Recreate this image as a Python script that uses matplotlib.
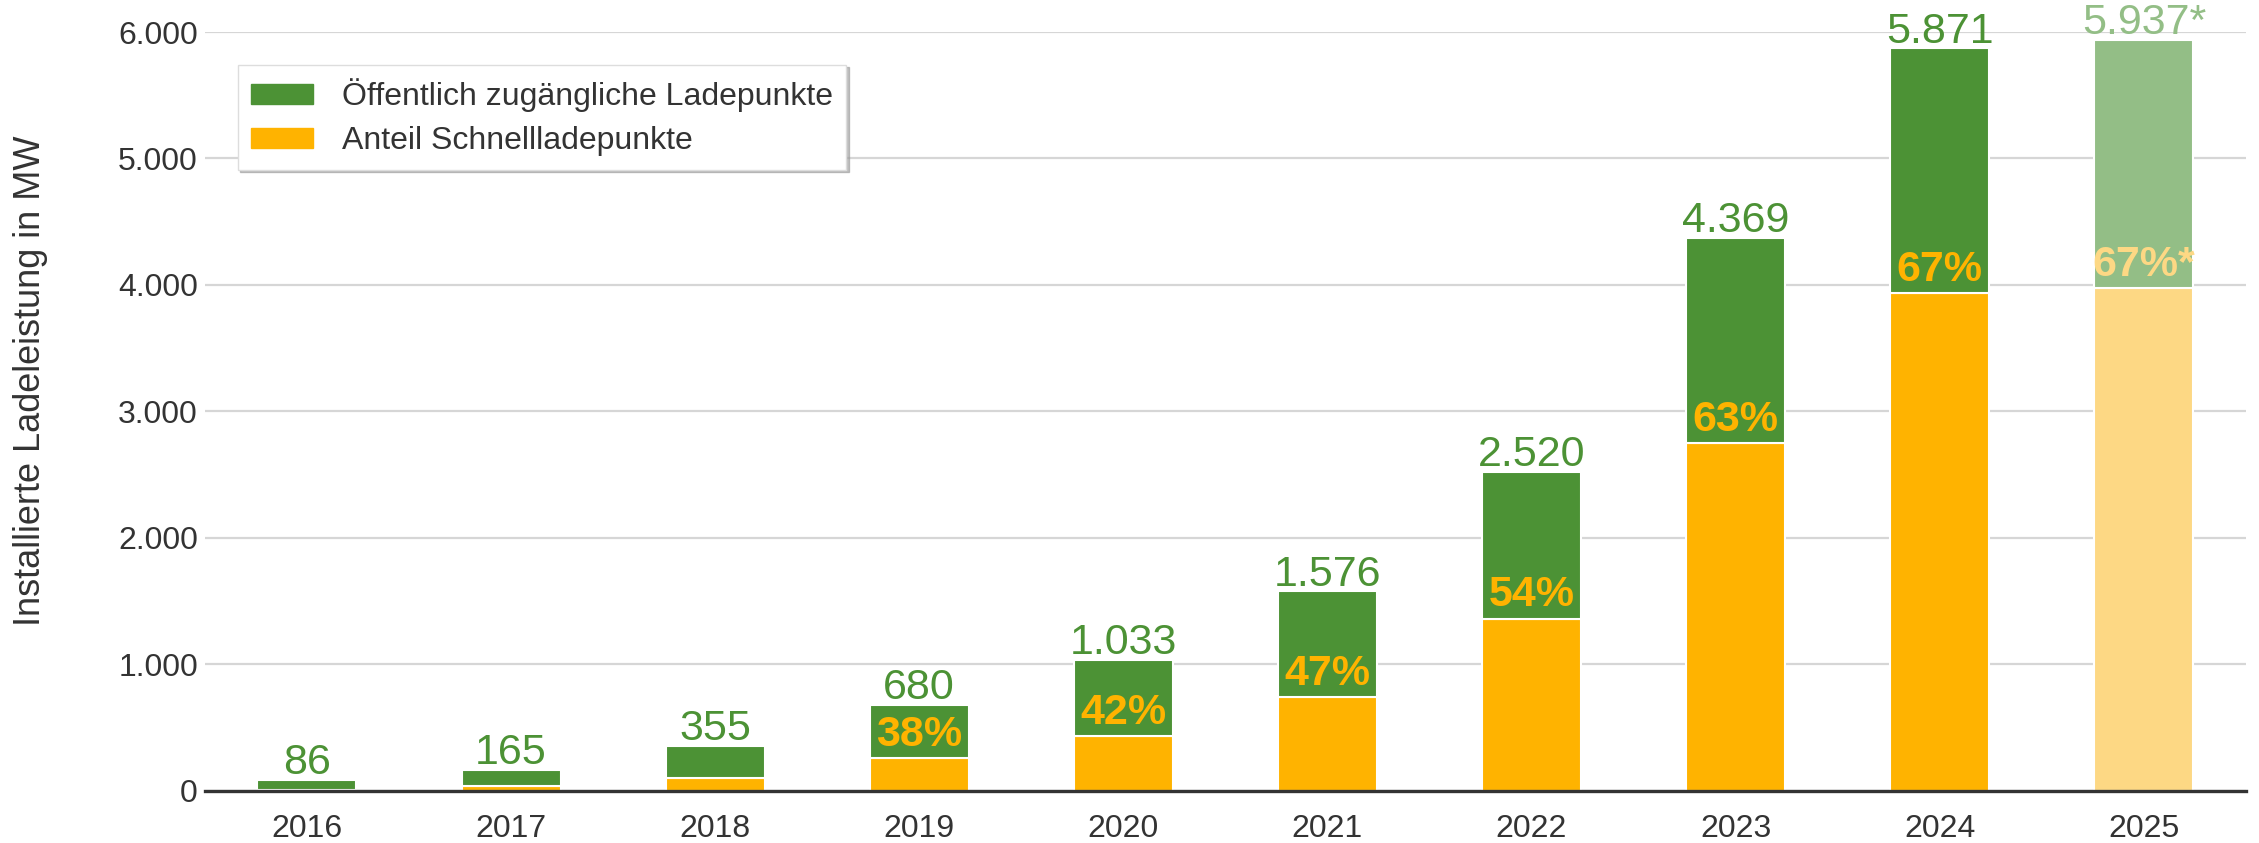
import numpy as np
import matplotlib.pyplot as plt
from matplotlib.patches import Patch

# ── Data ─────────────────────────────────────────────────────────────────────
years        = ['2016', '2017', '2018', '2019', '2020', '2021', '2022', '2023', '2024', '2025']
total_mw     = [86, 165, 355, 680, 1033, 1576, 2520, 4369, 5871, 5937]
fast_mw      = [5, 35, 100, 258, 434, 741, 1361, 2752, 3934, 3978]
fast_pct     = [None, None, None, 38, 42, 47, 54, 63, 67, 67]
total_labels = ['86', '165', '355', '680', '1.033', '1.576', '2.520', '4.369', '5.871', '5.937*']
pct_labels   = ['', '', '', '38%', '42%', '47%', '54%', '63%', '67%', '67%*']
yticks       = [0, 1000, 2000, 3000, 4000, 5000, 6000]
ytick_labels = ['0', '1.000', '2.000', '3.000', '4.000', '5.000', '6.000']

# ── Style ────────────────────────────────────────────────────────────────────
GREEN, GREEN_LIGHT = '#4c9235', '#93be86'
ORANGE, ORANGE_LIGHT = '#ffb300', '#fdd884'
plt.rcParams['font.family'] = ['Liberation Sans', 'DejaVu Sans']

green_cols  = [GREEN] * 9 + [GREEN_LIGHT]
orange_cols = [ORANGE] * 9 + [ORANGE_LIGHT]

fig = plt.figure(figsize=(22.59, 8.43), dpi=100)
ax = fig.add_axes([0.0907, 0.062, 0.9035, 0.900])

x = np.arange(len(years))
rest = np.array(total_mw) - np.array(fast_mw)
w = 0.485

ax.bar(x, fast_mw, width=w, color=orange_cols, edgecolor='white', linewidth=1.5, zorder=3)
ax.bar(x, rest, width=w, bottom=fast_mw, color=green_cols, edgecolor='white',
       linewidth=1.5, zorder=3)

# value labels on top
for i in range(len(years)):
    ax.text(x[i], total_mw[i] - 25, total_labels[i], ha='center', va='bottom',
            fontsize=31, color=green_cols[i], zorder=4)
    if pct_labels[i]:
        ax.text(x[i], fast_mw[i] + 25, pct_labels[i], ha='center', va='bottom',
                fontsize=31, fontweight='bold', color=orange_cols[i], zorder=4)

ax.set_xlim(-0.5, 9.5)
ax.set_ylim(0, 6000)
ax.set_yticks(yticks)
ax.set_yticklabels(ytick_labels)
ax.set_xticks(x)
ax.set_xticklabels(years)
ax.tick_params(axis='y', length=0, labelsize=23, labelcolor='#333333', pad=5)
ax.tick_params(axis='x', length=0, labelsize=23, labelcolor='#333333', pad=17)

ax.grid(axis='y', color='#d6d6d6', linewidth=1.6, zorder=0)
ax.set_axisbelow(True)
for s in ['top', 'right', 'left']:
    ax.spines[s].set_visible(False)
ax.spines['bottom'].set_color('#333333')
ax.spines['bottom'].set_linewidth(2.4)
ax.spines['bottom'].set_zorder(5)

ax.set_ylabel('Installierte Ladeleistung in MW', fontsize=26, color='#333333')
ax.yaxis.set_label_coords(-0.077, 0.54)

handles = [Patch(color=GREEN, label='Öffentlich zugängliche Ladepunkte'),
           Patch(color=ORANGE, label='Anteil Schnellladepunkte')]
ax.legend(handles=handles, loc='upper left', bbox_to_anchor=(0.016, 0.957),
          borderaxespad=0, fontsize=23, frameon=True, fancybox=False,
          edgecolor='#dddddd', framealpha=1,
          shadow={'color': '#999999', 'alpha': 0.6},
          handlelength=1.95, handleheight=0.6, handletextpad=0.9,
          labelspacing=0.45, borderpad=0.42, labelcolor='#333333')

plt.savefig('out.png', dpi=100)
